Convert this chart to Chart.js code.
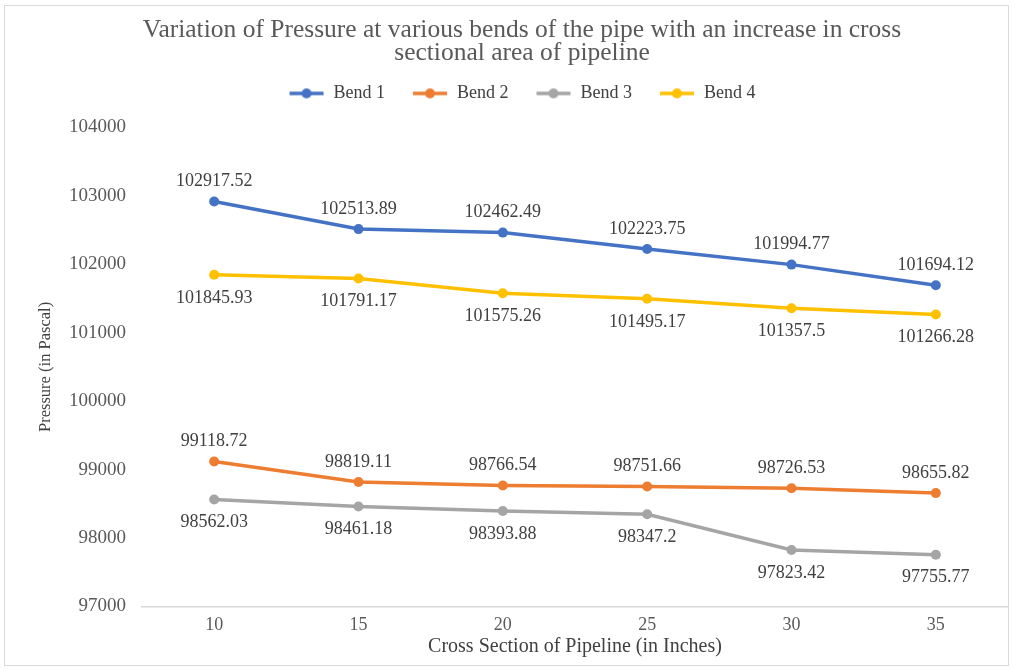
<!DOCTYPE html>
<html lang="en">
<head>
    <meta charset="UTF-8">
    <title>Variation of Pressure at various bends</title>
    <script src="https://cdn.jsdelivr.net/npm/chart.js@4.4.1/dist/chart.umd.min.js"></script>
    <style>
        html, body {
            margin: 0;
            padding: 0;
            background: #fff;
        }
        .wrap {
            position: relative;
            width: 1015px;
            height: 670px;
        }
        .frame {
            position: absolute;
            left: 4px;
            top: 5px;
            width: 1003px;
            height: 659px;
            border: 1px solid #d9d9d9;
            pointer-events: none;
        }
    </style>
</head>
<body>
    <div class="wrap">
        <canvas id="line-chart" width="1015" height="670"></canvas>
        <div class="frame"></div>
    </div>
</body>
<script>
    const crossSections = ["10", "15", "20", "25", "30", "35"]
    const bend1 = [102917.52, 102513.89, 102462.49, 102223.75, 101994.77, 101694.12]
    const bend2 = [99118.72, 98819.11, 98766.54, 98751.66, 98726.53, 98655.82]
    const bend3 = [98562.03, 98461.18, 98393.88, 98347.2, 97823.42, 97755.77]
    const bend4 = [101845.93, 101791.17, 101575.26, 101495.17, 101357.5, 101266.28]

    const serif = "'Liberation Serif', 'Times New Roman', serif"

    // small line + dot image for the legend, like the office legend
    function legendMark(color) {
        let c = document.createElement("canvas")
        c.width = 36
        c.height = 12
        let ctx = c.getContext("2d")
        ctx.strokeStyle = color
        ctx.lineWidth = 3.5
        ctx.beginPath()
        ctx.moveTo(1, 6)
        ctx.lineTo(35, 6)
        ctx.stroke()
        ctx.fillStyle = color
        ctx.beginPath()
        ctx.arc(18, 6, 5, 0, Math.PI * 2)
        ctx.fill()
        return c
    }

    // empty box between legend and plot, gives the gap under the legend
    const legendGap = {
        id: "legendGap",
        beforeInit(chart) {
            Chart.layouts.addBox(chart, {
                position: "top",
                weight: 0,
                fullSize: true,
                options: {},
                left: 0, top: 0, right: 0, bottom: 0, width: 0, height: 0,
                isHorizontal() { return true },
                update(maxWidth) {
                    this.width = maxWidth
                    this.height = 15
                },
                draw() {}
            })
        }
    }

    // value labels: above for bend 1 and 2, below for bend 3 and 4
    const valueLabels = {
        id: "valueLabels",
        afterDatasetsDraw(chart) {
            let ctx = chart.ctx
            ctx.save()
            ctx.font = "18px " + serif
            ctx.fillStyle = "#404040"
            ctx.textAlign = "center"
            ctx.textBaseline = "middle"
            chart.data.datasets.forEach((ds, i) => {
                let meta = chart.getDatasetMeta(i)
                let dy = ds.labelAbove ? -20 : 23
                meta.data.forEach((pt, j) => {
                    ctx.fillText(String(ds.data[j]), pt.x, pt.y + dy)
                })
            })
            ctx.restore()
        }
    }

    function series(label, data, color, above) {
        return {
            label: label,
            data: data,
            borderColor: color,
            backgroundColor: color,
            borderWidth: 3.5,
            pointRadius: 5,
            pointBorderWidth: 0,
            pointStyle: "circle",
            tension: 0,
            labelAbove: above
        }
    }

    new Chart(document.getElementById("line-chart"), {
        type: "line",
        data: {
            labels: crossSections,
            datasets: [
                series("Bend 1", bend1, "#4472C4", true),
                series("Bend 2", bend2, "#ED7D31", true),
                series("Bend 3", bend3, "#A5A5A5", false),
                series("Bend 4", bend4, "#FFC000", false)
            ]
        },
        options: {
            responsive: false,
            animation: false,
            layout: {
                padding: { left: 36, right: 7, top: 10, bottom: 11 }
            },
            plugins: {
                title: {
                    display: true,
                    text: ["Variation of Pressure at various bends of the pipe with an increase in cross", "sectional area of pipeline"],
                    color: "#595959",
                    font: { family: serif, size: 25.5, weight: "normal", lineHeight: 0.9 },
                    padding: { top: 8.5, bottom: -7 }
                },
                legend: {
                    position: "top",
                    labels: {
                        color: "#404040",
                        font: { family: serif, size: 18 },
                        usePointStyle: true,
                        pointStyleWidth: 36,
                        padding: 27,
                        generateLabels(chart) {
                            return chart.data.datasets.map((ds, i) => ({
                                text: ds.label,
                                fillStyle: ds.borderColor,
                                strokeStyle: ds.borderColor,
                                pointStyle: legendMark(ds.borderColor),
                                fontColor: "#404040",
                                datasetIndex: i,
                                hidden: false
                            }))
                        }
                    }
                },
                tooltip: { enabled: false }
            },
            scales: {
                x: {
                    offset: true,
                    grid: { display: false, drawTicks: false },
                    border: { color: "#d9d9d9", width: 1.5 },
                    ticks: {
                        color: "#595959",
                        font: { family: serif, size: 18 },
                        padding: 8
                    },
                    title: {
                        display: true,
                        text: "Cross Section of Pipeline (in Inches)",
                        color: "#404040",
                        font: { family: serif, size: 20 },
                        padding: { top: -9, bottom: 0 }
                    }
                },
                y: {
                    min: 97000,
                    max: 104000,
                    grid: { display: false, drawTicks: false },
                    border: { display: false },
                    ticks: {
                        stepSize: 1000,
                        color: "#595959",
                        font: { family: serif, size: 19 },
                        padding: 16,
                        callback: v => String(v)
                    },
                    title: {
                        display: true,
                        text: "Pressure (in Pascal)",
                        color: "#404040",
                        font: { family: serif, size: 16.5 },
                        padding: 0
                    },
                    afterFit(scale) {
                        scale.width = 106
                    }
                }
            }
        },
        plugins: [legendGap, valueLabels]
    })
</script>
</html>
